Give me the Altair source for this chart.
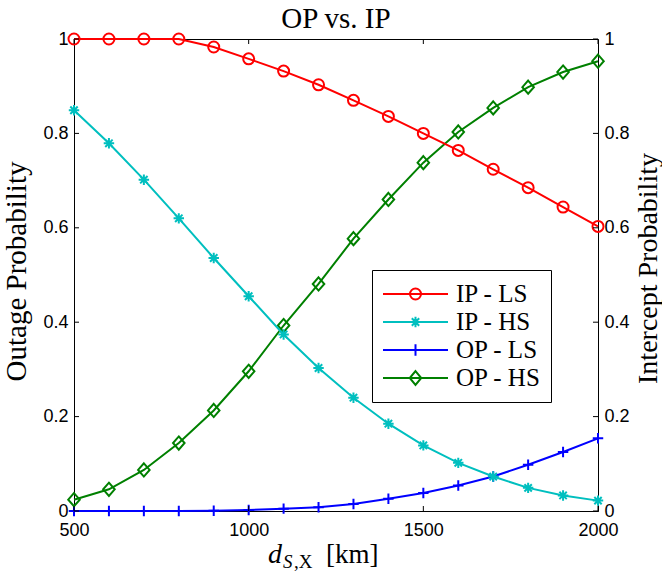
import altair as alt
import pandas as pd

# Distance between source and node X (km)
distance_km = [500, 600, 700, 800, 900, 1000, 1100, 1200,
               1300, 1400, 1500, 1600, 1700, 1800, 1900, 2000]

# Intercept probability (right axis)
ip_ls = [1.0, 1.0, 1.0, 1.0, 0.983, 0.958, 0.932, 0.903,
         0.870, 0.836, 0.800, 0.764, 0.724, 0.685, 0.644, 0.603]
ip_hs = [0.849, 0.779, 0.702, 0.620, 0.536, 0.455, 0.374, 0.303,
         0.240, 0.185, 0.139, 0.102, 0.073, 0.049, 0.033, 0.022]

# Outage probability (left axis)
op_ls = [0.0, 0.0, 0.0, 0.0, 0.0005, 0.002, 0.005, 0.008,
         0.015, 0.026, 0.038, 0.054, 0.073, 0.098, 0.125, 0.154]
op_hs = [0.024, 0.046, 0.087, 0.144, 0.213, 0.296, 0.393, 0.481,
         0.577, 0.660, 0.738, 0.803, 0.854, 0.898, 0.930, 0.953]

series_names = ["IP - LS", "IP - HS", "OP - LS", "OP - HS"]
series_colors = ["#ff0000", "#00bfbf", "#0000ff", "#008000"]

x_ticks = [500, 1000, 1500, 2000]
y_ticks = [0, 0.2, 0.4, 0.6, 0.8, 1]

W, H = 524, 472
SERIF = "Liberation Serif"
SANS = "Liberation Sans"

rows = []
for name, vals in zip(series_names, [ip_ls, ip_hs, op_ls, op_hs]):
    for d, v in zip(distance_km, vals):
        rows.append({"d": d, "p": v, "series": name, "group": name[:2]})
df = pd.DataFrame(rows)

# Marker outlines in unit coordinates (scaled by sqrt(size)/2 in Vega)
def circle(r):
    return f"M{r},0A{r},{r} 0 1,1 {-r},0A{r},{r} 0 1,1 {r},0Z"

def asterisk(r):
    k = round(r * 0.7071, 4)
    return (f"M0,{-r}L0,{r}M{-r},0L{r},0"
            f"M{-k},{-k}L{k},{k}M{-k},{k}L{k},{-k}")

def plus(r):
    return f"M0,{-r}L0,{r}M{-r},0L{r},0"

def diamond(w, h):
    return f"M0,{-h}L{w},0L0,{h}L{-w},0Z"

marker_px = 5.5
plot_markers = [circle(1), asterisk(0.95), plus(0.95), diamond(1.05, 1.2)]

legend_half = 32.5
s = marker_px / legend_half
legend_markers = [
    "M-1,0L1,0" + circle(round(s * 1.0, 4)),
    "M-1,0L1,0" + asterisk(round(s * 0.95, 4)),
    "M-1,0L1,0" + plus(round(s * 1.05, 4)),
    "M-1,0L1,0" + diamond(round(s * 1.05, 4), round(s * 1.25, 4)),
]

x_scale = alt.Scale(domain=[500, 2000], nice=False, zero=False)
x_axis = alt.Axis(values=x_ticks, format="d", title=None,
                  labelFlush=False, labelOverlap=False)
x_enc = alt.X("d:Q", scale=x_scale, axis=x_axis)
y_scale = alt.Scale(domain=[0, 1], nice=False)
color_enc = alt.Color("series:N", scale=alt.Scale(domain=series_names, range=series_colors),
                      legend=None)

left_axis = alt.Axis(values=y_ticks, labelExpr="'' + datum.value",
                     title="Outage Probability", titleFont=SERIF, titleFontSize=29,
                     titleFontWeight="normal", titleAngle=270, titleX=-49, titleY=232,
                     titleAlign="center", titleBaseline="alphabetic",
                     labelFlush=False, labelOverlap=False)
right_axis = alt.Axis(values=y_ticks, labelExpr="'' + datum.value", orient="right",
                      title="Intercept Probability", titleFont=SERIF, titleFontSize=28,
                      titleFontWeight="normal", titleAngle=270, titleX=58, titleY=229,
                      titleAlign="center", titleBaseline="alphabetic",
                      labelFlush=False, labelOverlap=False, domain=False)

base = alt.Chart(df)

def lines(group, axis):
    return base.transform_filter(alt.datum.group == group).mark_line(
        strokeWidth=2).encode(
        x=x_enc,
        y=alt.Y("p:Q", scale=y_scale, axis=axis),
        color=color_enc,
        detail="series:N",
    )

def markers(group):
    return base.transform_filter(alt.datum.group == group).mark_point(
        filled=False, strokeWidth=2, size=(2 * marker_px) ** 2, opacity=1).encode(
        x=x_enc,
        y=alt.Y("p:Q", scale=y_scale, axis=None),
        color=color_enc,
        shape=alt.Shape("series:N",
                        scale=alt.Scale(domain=series_names, range=plot_markers),
                        legend=None),
    )

# Inward tick marks on all four sides of the frame
xt = pd.DataFrame({"d": x_ticks})
yt = pd.DataFrame({"v": y_ticks})
tick_len = 5
bottom_ticks = alt.Chart(xt).mark_rule(color="black", strokeWidth=1).encode(
    x=x_enc, y=alt.value(H), y2=alt.value(H - tick_len))
top_ticks = alt.Chart(xt).mark_rule(color="black", strokeWidth=1).encode(
    x=x_enc, y=alt.value(0), y2=alt.value(tick_len))
left_ticks = alt.Chart(yt).mark_rule(color="black", strokeWidth=1).encode(
    y=alt.Y("v:Q", scale=y_scale, axis=None),
    x=alt.value(0), x2=alt.value(tick_len))
right_ticks = alt.Chart(yt).mark_rule(color="black", strokeWidth=1).encode(
    y=alt.Y("v:Q", scale=y_scale, axis=right_axis),
    x=alt.value(W - tick_len), x2=alt.value(W))

# Legend carrier: no marks, only the merged color/shape legend
legend_layer = base.transform_filter("false").mark_point(
    filled=False, opacity=1, strokeWidth=2).encode(
    color=alt.Color("series:N", scale=alt.Scale(domain=series_names, range=series_colors),
                    legend=alt.Legend(title=None)),
    shape=alt.Shape("series:N", scale=alt.Scale(domain=series_names, range=legend_markers),
                    legend=alt.Legend(title=None)),
)

# Free-standing serif texts: chart title and x-axis title  d_{S,X} [km]
def word(txt, x, y, size, style="normal", align="left"):
    return alt.Chart(pd.DataFrame({"t": [txt]})).mark_text(
        text=txt, font=SERIF, fontSize=size, fontStyle=style, align=align,
        baseline="alphabetic", color="black").encode(x=alt.value(x), y=alt.value(y))

title_text = word("OP vs. IP", W / 2, -11, 29, align="center")

xtitle = alt.layer(
    word("d", 194, 524, 28, "italic"),
    word("S", 209, 529, 19, "italic"),
    word(",X", 220, 529, 19),
    word("[km]", 252, 524, 27),
)

chart = alt.layer(
    lines("OP", left_axis), markers("OP"),
    lines("IP", None), markers("IP"),
    bottom_ticks, top_ticks, left_ticks, right_ticks,
    legend_layer, title_text, xtitle,
).resolve_scale(
    y="independent", color="independent", shape="independent"
).properties(
    width=W, height=H,
    autosize=alt.AutoSizeParams(type="none"),
    padding={"left": 74, "top": 39, "right": 64, "bottom": 60},
).configure_view(
    stroke="black", strokeWidth=1
).configure_axis(
    labelFont=SANS, labelFontSize=18, labelColor="black", labelPadding=6,
    ticks=False, grid=False, domainColor="black", domainWidth=1,
    titleColor="black", titleFont=SERIF, titleFontWeight="normal",
).configure_axisX(
    labelPadding=10,
).configure_legend(
    orient="none", legendX=298, legendY=231,
    strokeColor="black", fillColor="white", padding=10, cornerRadius=0,
    symbolSize=(2 * legend_half) ** 2, symbolStrokeWidth=2, clipHeight=28,
    labelFont=SERIF, labelFontSize=25, labelColor="black", labelOffset=7,
    rowPadding=0, labelLimit=0,
)

chart.save("out.html", embed_options={"renderer": "svg", "actions": False})
